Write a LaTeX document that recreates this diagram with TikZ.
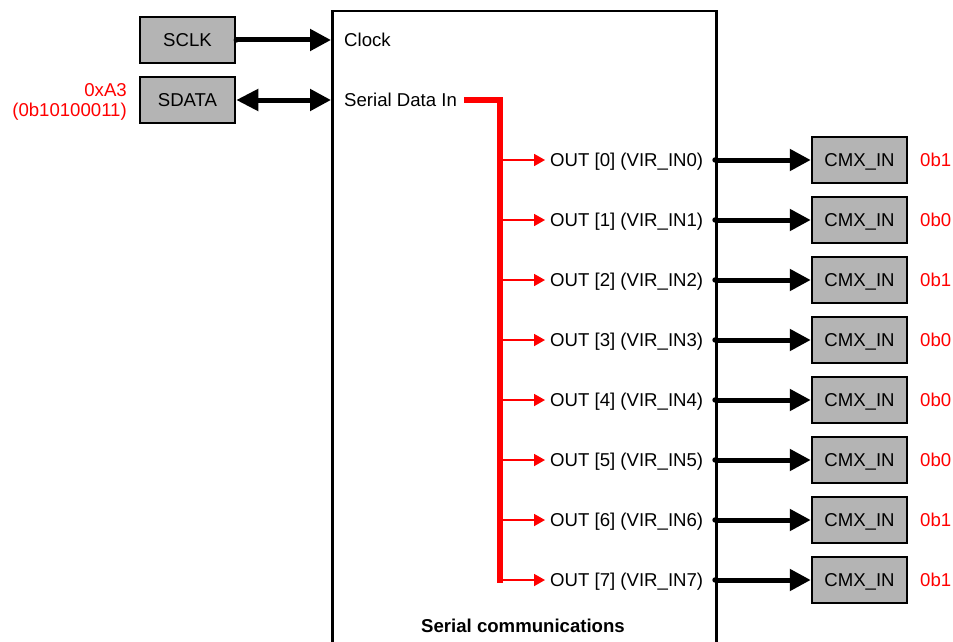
\documentclass[tikz,border=0pt]{standalone}
\usepackage{fontspec}
\setmainfont{Liberation Sans}
\usetikzlibrary{arrows.meta}
\definecolor{boxgray}{RGB}{180,180,180}
\definecolor{sigred}{RGB}{255,0,0}
\begin{document}
\begin{tikzpicture}[x=1pt,y=-1pt,
  font=\fontsize{18.6pt}{22pt}\selectfont,
  graybox/.style={draw, line width=2.5pt, fill=boxgray, minimum width=95pt,
    minimum height=46pt, inner sep=0pt, text height=13.3pt, text depth=0pt},
  mainbox/.style={draw, line width=2.5pt, inner sep=0pt},
  plain/.style={inner sep=0pt},
  redtext/.style={inner sep=0pt, text=sigred},
  bus/.style={line width=5.5pt, draw=sigred, line cap=butt, line join=miter},
  tap/.style={line width=1.8pt, draw=sigred, -{Triangle[length=11pt,width=12pt]}},
  bigarrow/.style={line width=5pt, -{Triangle[length=21pt,width=21pt]}},
  biarrow/.style={line width=5pt, {Triangle[length=22pt,width=21pt]}-{Triangle[length=21pt,width=21pt]}},
  dot/.style={fill=black}
]
\useasboundingbox (0,0) rectangle (953,642);

% main block
\node[mainbox, anchor=north west, minimum width=384pt, minimum height=660pt] (main) at (331,10) {};
\node[plain, font=\fontsize{18.6pt}{22pt}\selectfont\bfseries] (title) at (523,626) {Serial communications};

% inputs
\node[graybox] (sclk) at (187.5,40) {SCLK};
\node[graybox] (sdata) at (187.5,100) {SDATA};
\node[redtext, anchor=base east] (hexv) at (127,96) {0xA3};
\node[redtext, anchor=base east] (binv) at (127,116.5) {(0b10100011)};

\coordinate (clkin) at (331,40);
\coordinate (datin) at (331,100);
\node[plain, anchor=base west] (clk) at (344,46.7) {Clock};
\node[plain, anchor=base west] (sdi) at (344,106.7) {Serial Data In};

\draw[bigarrow] (sclk.east) -- (clkin);
\fill[dot] (sclk.east) circle (2.7pt);
\draw[biarrow] (sdata.east) -- (datin);

% red bus
\coordinate (sdstart) at (464,100);
\coordinate (busturn) at (500,100);
\coordinate (busend) at (500,583);
\draw[bus] (sdstart) -- (busturn) -- (busend);

% outputs
\foreach \k/\v in {0/1,1/0,2/1,3/0,4/0,5/0,6/1,7/1} {
  \pgfmathsetmacro\yy{160+60*\k}
  \coordinate (tap\k) at (500,\yy);
  \node[anchor=base west, inner xsep=5pt, inner ysep=0pt] (out\k) at (545,\yy+6.7) {OUT [\k] (VIR\_IN\k)};
  \coordinate (port\k) at (715,\yy);
  \node[graybox] (cmx\k) at (859.5,\yy) {CMX\_IN};
  \node[redtext, anchor=west] (val\k) at (920,\yy) {0b\v};
  \draw[tap] (tap\k) -- (tap\k -| out\k.west);
  \draw[bigarrow] (port\k) -- (cmx\k.west);
  \fill[dot] (port\k) circle (2.7pt);
}
\end{tikzpicture}
\end{document}
